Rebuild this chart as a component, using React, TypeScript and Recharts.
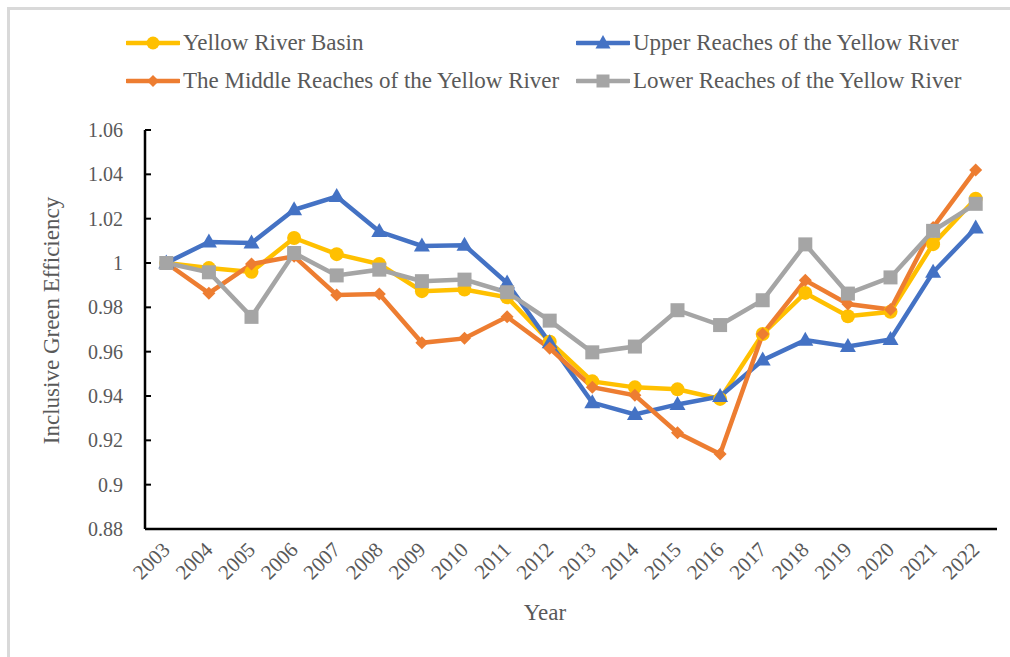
import React from 'react';
import { LineChart, Line, XAxis, YAxis, Legend } from 'recharts';

const years = ['2003','2004','2005','2006','2007','2008','2009','2010','2011','2012','2013','2014','2015','2016','2017','2018','2019','2020','2021','2022'];
const basin = [1.000,0.9977,0.996,1.0113,1.004,0.9995,0.9873,0.988,0.9845,0.9645,0.9466,0.9439,0.943,0.9387,0.968,0.9865,0.976,0.978,1.0085,1.029];
const upper = [1.000,1.0095,1.009,1.024,1.030,1.0142,1.0077,1.008,0.991,0.964,0.937,0.9317,0.9362,0.9398,0.9562,0.9652,0.9623,0.9655,0.9958,1.0158];
const middle = [1.000,0.9864,0.9995,1.003,0.9856,0.986,0.964,0.966,0.9757,0.9615,0.944,0.9403,0.9234,0.9138,0.968,0.9922,0.9815,0.979,1.016,1.042];
const lower = [1.000,0.9958,0.9757,1.0045,0.9944,0.997,0.9918,0.9925,0.9868,0.974,0.9597,0.9623,0.9787,0.972,0.9832,1.0084,0.9862,0.9935,1.0145,1.0267];
const yTicks = [0.88,0.9,0.92,0.94,0.96,0.98,1,1.02,1.04,1.06];
const seriesNames = ['Yellow River Basin','Upper Reaches of the Yellow River','The Middle Reaches of the Yellow River','Lower Reaches of the Yellow River'];

const data = years.map((y, i) => ({ idx: i, year: y, basin: basin[i], upper: upper[i], middle: middle[i], lower: lower[i] }));
const tickIdx = years.map((_, i) => i);
const boundIdx = [...years.map((_, i) => i - 0.5), years.length - 0.5];

const FONT = '"Liberation Serif", "Times New Roman", serif';
const TXT = '#595959';
const C_Y = '#FFC000';
const C_B = '#4472C4';
const C_O = '#ED7D31';
const C_G = '#A5A5A5';

const fmtY = (v: number) => String(Number(v.toFixed(2)));

const CircleDot = (p: any) => <circle key={`c${p.index}`} cx={p.cx} cy={p.cy} r={7} fill={C_Y} />;
const TriDot = (p: any) => (
  <polygon key={`t${p.index}`} points={`${p.cx},${p.cy - 8.5} ${p.cx - 8},${p.cy + 5.5} ${p.cx + 8},${p.cy + 5.5}`} fill={C_B} />
);
const DiaDot = (p: any) => (
  <polygon key={`d${p.index}`} points={`${p.cx},${p.cy - 6.5} ${p.cx + 6.5},${p.cy} ${p.cx},${p.cy + 6.5} ${p.cx - 6.5},${p.cy}`} fill={C_O} />
);
const SqDot = (p: any) => <rect key={`s${p.index}`} x={p.cx - 7} y={p.cy - 7} width={14} height={14} fill={C_G} />;

const XTick = (p: any) => (
  <text
    x={p.x + 5}
    y={p.y + 21}
    transform={`rotate(-45 ${p.x + 5} ${p.y + 21})`}
    textAnchor="end"
    fill={TXT}
    fontSize={21}
    fontFamily={FONT}
    style={{ fontFamily: FONT, fontSize: 21 }}
  >
    {years[p.payload.value]}
  </text>
);

const YTick = (p: any) => (
  <text
    x={p.x}
    y={p.y}
    dy="0.35em"
    textAnchor="end"
    fill={TXT}
    fontSize={20}
    fontFamily={FONT}
    style={{ fontFamily: FONT, fontSize: 20 }}
  >
    {fmtY(p.payload.value)}
  </text>
);

const icon = (kind: string, color: string) => (
  <svg width={54} height={16} style={{ display: 'block' }}>
    <line x1={1} y1={8} x2={53} y2={8} stroke={color} strokeWidth={4.5} strokeLinecap="round" />
    {kind === 'circle' && <circle cx={27} cy={8} r={6.5} fill={color} />}
    {kind === 'tri' && <polygon points="27,0 19.5,13.5 34.5,13.5" fill={color} />}
    {kind === 'dia' && <polygon points="27,2 33,8 27,14 21,8" fill={color} />}
    {kind === 'sq' && <rect x={20.5} y={1.5} width={13} height={13} fill={color} />}
  </svg>
);

const legendItems = [
  { name: seriesNames[0], kind: 'circle', color: C_Y, left: 126, top: 43 },
  { name: seriesNames[1], kind: 'tri', color: C_B, left: 576, top: 43 },
  { name: seriesNames[2], kind: 'dia', color: C_O, left: 126, top: 81 },
  { name: seriesNames[3], kind: 'sq', color: C_G, left: 576, top: 81 },
];

const LegendContent = () => (
  <div style={{ position: 'relative', height: 0, width: 1010 }}>
    {legendItems.map((it) => (
      <div
        key={it.name}
        style={{
          position: 'absolute',
          left: it.left,
          top: it.top - 13,
          height: 26,
          display: 'flex',
          alignItems: 'center',
          whiteSpace: 'nowrap',
        }}
      >
        {icon(it.kind, it.color)}
        <span style={{ marginLeft: 3, fontFamily: FONT, fontSize: 23, color: TXT, lineHeight: '26px' }}>{it.name}</span>
      </div>
    ))}
  </div>
);

export default function App() {
  return (
    <div style={{ position: 'absolute', left: 0, top: 0, width: 1010, height: 657, background: '#fff', overflow: 'hidden', fontFamily: FONT }}>
      <div
        style={{
          position: 'absolute',
          left: 7,
          top: 7,
          width: 1020,
          height: 670,
          borderLeft: '3px solid #D9D9D9',
          borderTop: '3px solid #D9D9D9',
          boxSizing: 'border-box',
        }}
      />
      <div style={{ position: 'absolute', left: 0, top: 0 }}>
        <LineChart width={1010} height={657} data={data} margin={{ top: 130, right: 13, bottom: 28, left: 45 }} style={{ fontFamily: FONT }}>
          <Legend
            verticalAlign="top"
            align="left"
            content={<LegendContent />}
            wrapperStyle={{ position: 'absolute', left: 0, top: 0, width: 1010, height: 0 }}
          />
          <XAxis
            xAxisId="a"
            dataKey="idx"
            type="number"
            domain={[-0.5, years.length - 0.5]}
            ticks={boundIdx}
            allowDataOverflow
            height={1}
            tick={false}
            tickSize={-6}
            tickLine={{ stroke: '#000', strokeWidth: 2 }}
            axisLine={{ stroke: '#000', strokeWidth: 2.5 }}
          />
          <XAxis
            xAxisId="b"
            dataKey="idx"
            type="number"
            domain={[-0.5, years.length - 0.5]}
            ticks={tickIdx}
            interval={0}
            allowDataOverflow
            height={99}
            axisLine={false}
            tickLine={false}
            tickSize={0}
            tickMargin={0}
            tick={<XTick />}
            label={{
              content: (p: any) => {
                const vb = p.viewBox;
                return (
                  <text x={vb.x + vb.width / 2 - 26} y={vb.y + 90} textAnchor="middle" fill={TXT} fontSize={23} fontFamily={FONT} style={{ fontFamily: FONT }}>
                    Year
                  </text>
                );
              },
            }}
          />
          <YAxis
            width={100}
            domain={[0.88, 1.06]}
            ticks={yTicks}
            interval={0}
            allowDataOverflow
            tickFormatter={fmtY}
            tickSize={-6}
            tickMargin={28}
            tick={<YTick />}
            tickLine={{ stroke: '#000', strokeWidth: 2 }}
            axisLine={{ stroke: '#000', strokeWidth: 2.5 }}
            label={{
              content: (p: any) => {
                const vb = p.viewBox;
                const cx = vb.x + 6;
                const cy = vb.y + vb.height / 2 - 9;
                return (
                  <text x={cx} y={cy} transform={`rotate(-90 ${cx} ${cy})`} textAnchor="middle" dominantBaseline="central" fill={TXT} fontSize={23} fontFamily={FONT} style={{ fontFamily: FONT }}>
                    Inclusive Green Efficiency
                  </text>
                );
              },
            }}
          />
          <Line xAxisId="b" dataKey="basin" name={seriesNames[0]} stroke={C_Y} strokeWidth={4.5} dot={CircleDot} activeDot={false} isAnimationActive={false} />
          <Line xAxisId="b" dataKey="upper" name={seriesNames[1]} stroke={C_B} strokeWidth={4.5} dot={TriDot} activeDot={false} isAnimationActive={false} />
          <Line xAxisId="b" dataKey="middle" name={seriesNames[2]} stroke={C_O} strokeWidth={4.5} dot={DiaDot} activeDot={false} isAnimationActive={false} />
          <Line xAxisId="b" dataKey="lower" name={seriesNames[3]} stroke={C_G} strokeWidth={4.5} dot={SqDot} activeDot={false} isAnimationActive={false} />
        </LineChart>
      </div>
    </div>
  );
}
